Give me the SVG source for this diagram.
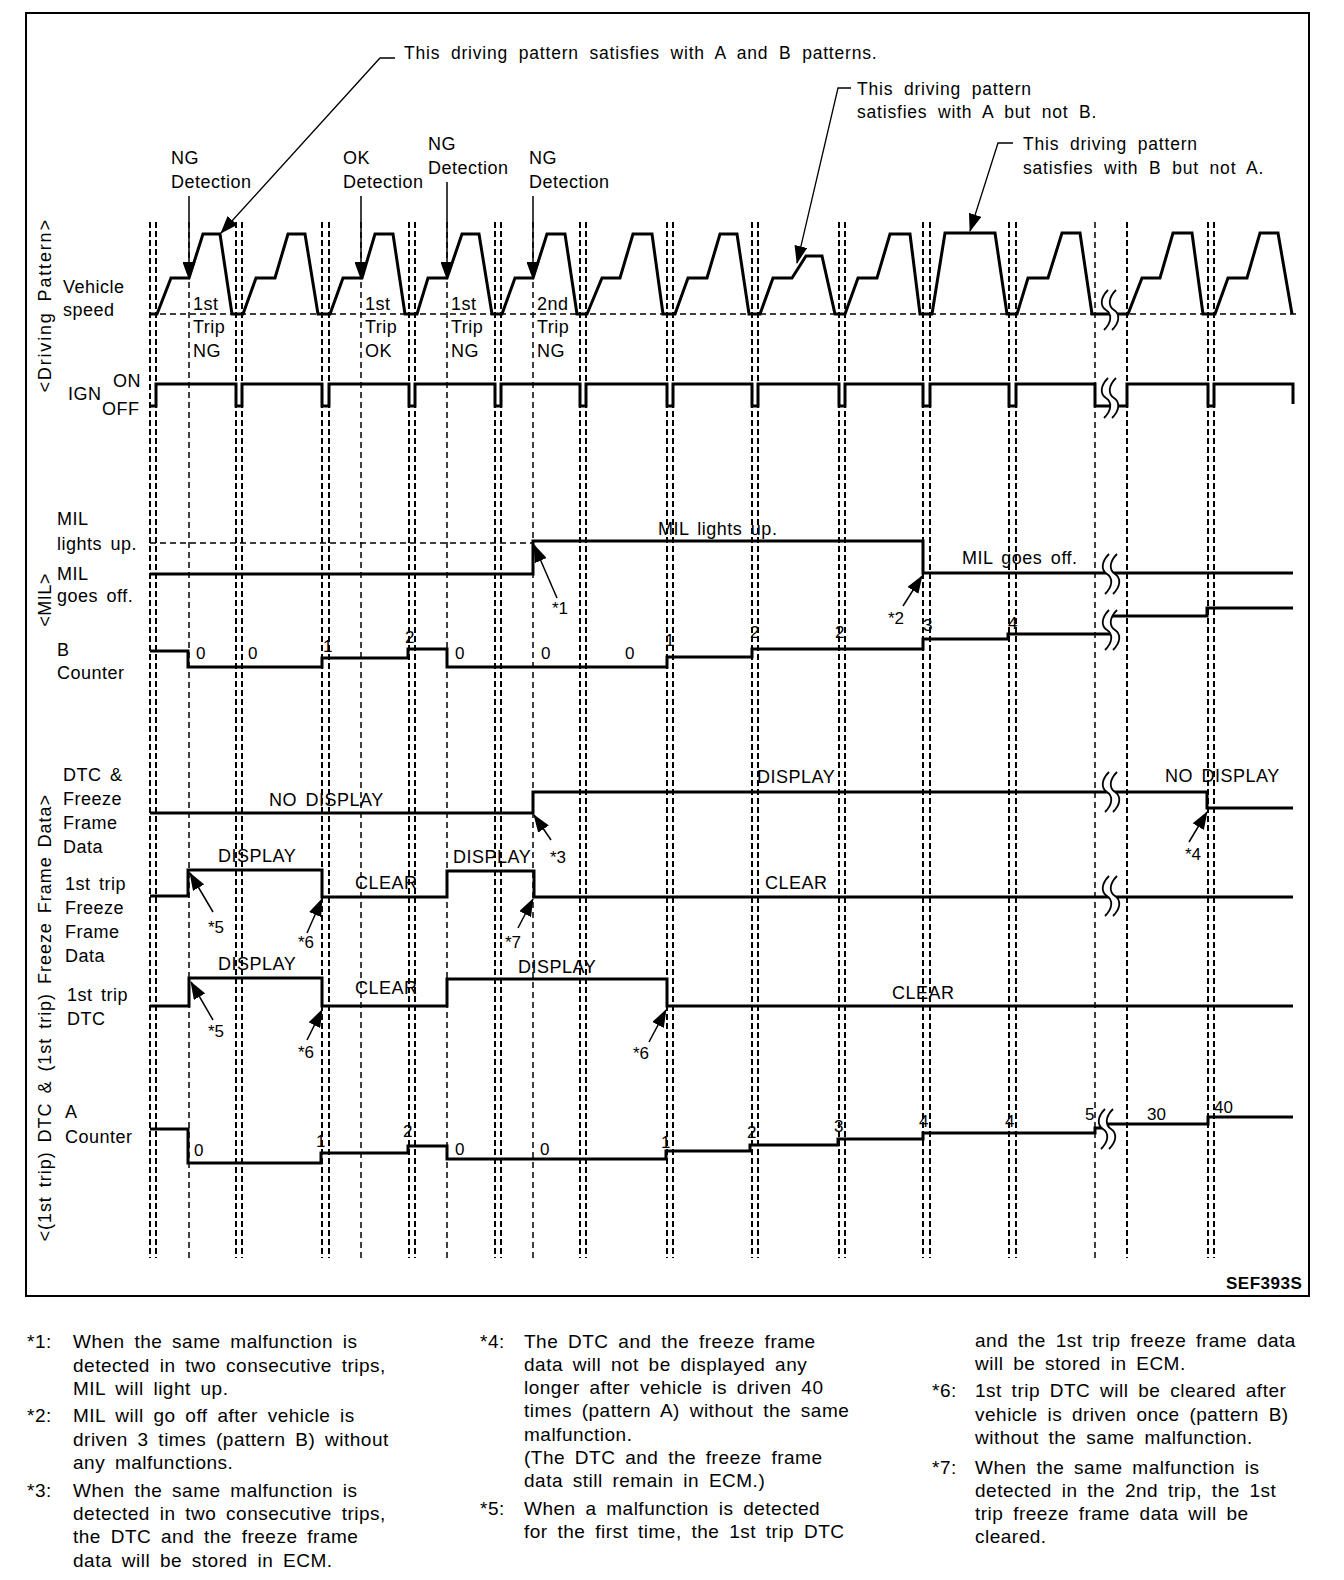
<svg xmlns="http://www.w3.org/2000/svg" width="1344" height="1580" viewBox="0 0 1344 1580">
<defs>
<style>
.t{font-family:"Liberation Sans",Arial,sans-serif;font-size:18px;letter-spacing:0.5px;word-spacing:3px;fill:#000}
.a{font-family:"Liberation Sans",Arial,sans-serif;font-size:17.5px;letter-spacing:0.8px;word-spacing:5px;fill:#000}
.n{font-family:"Liberation Sans",Arial,sans-serif;font-size:17px;fill:#000}
.f{font-family:"Liberation Sans",Arial,sans-serif;font-size:19px;letter-spacing:0.5px;word-spacing:4px;fill:#000}
.b{font-family:"Liberation Sans",Arial,sans-serif;font-size:17px;font-weight:bold;letter-spacing:0.5px;fill:#000}
.sig{fill:none;stroke:#000;stroke-width:3;stroke-linejoin:miter}
.pd{stroke:#000;stroke-width:2;stroke-dasharray:6 3}
.sd{stroke:#000;stroke-width:1.5;stroke-dasharray:6 4}
.ld{fill:none;stroke:#000;stroke-width:1.3}
.ar{fill:none;stroke:#000;stroke-width:1.5;marker-end:url(#ah)}
.bs{fill:none;stroke:#000;stroke-width:1.8}
</style>
<marker id="ah" markerUnits="userSpaceOnUse" markerWidth="18" markerHeight="13" refX="17" refY="6.5" orient="auto" viewBox="0 0 18 13"><path d="M0,0 L18,6.5 L0,13 Z" fill="#000"/></marker>
<g id="brk"><path d="M5,-20 C-3,-12 -3,-4 3,0 C9,4 9,12 1,20 L9,20 C17,12 17,4 11,0 C5,-4 5,-12 13,-20 Z" fill="#fff"/><path class="bs" d="M5,-20 C-3,-12 -3,-4 3,0 C9,4 9,12 1,20 M13,-20 C5,-12 5,-4 11,0 C17,4 17,12 9,20"/></g>
</defs>
<rect x="0" y="0" width="1344" height="1580" fill="#fff"/>
<rect x="26" y="13" width="1283" height="1283" fill="none" stroke="#000" stroke-width="2"/>

<g id="gridlines">
<line class="pd" x1="150" y1="222" x2="150" y2="1258"/><line class="pd" x1="156" y1="222" x2="156" y2="1258"/>
<line class="sd" x1="189" y1="222" x2="189" y2="1258"/>
<line class="pd" x1="236" y1="222" x2="236" y2="1258"/><line class="pd" x1="242" y1="222" x2="242" y2="1258"/>
<line class="pd" x1="322" y1="222" x2="322" y2="1258"/><line class="pd" x1="329" y1="222" x2="329" y2="1258"/>
<line class="sd" x1="361" y1="222" x2="361" y2="1258"/>
<line class="pd" x1="409" y1="222" x2="409" y2="1258"/><line class="pd" x1="415" y1="222" x2="415" y2="1258"/>
<line class="sd" x1="447" y1="222" x2="447" y2="1258"/>
<line class="pd" x1="495" y1="222" x2="495" y2="1258"/><line class="pd" x1="501" y1="222" x2="501" y2="1258"/>
<line class="sd" x1="533" y1="222" x2="533" y2="1258"/>
<line class="pd" x1="580" y1="222" x2="580" y2="1258"/><line class="pd" x1="586" y1="222" x2="586" y2="1258"/>
<line class="pd" x1="667" y1="222" x2="667" y2="1258"/><line class="pd" x1="673" y1="222" x2="673" y2="1258"/>
<line class="pd" x1="752" y1="222" x2="752" y2="1258"/><line class="pd" x1="758" y1="222" x2="758" y2="1258"/>
<line class="pd" x1="839" y1="222" x2="839" y2="1258"/><line class="pd" x1="845" y1="222" x2="845" y2="1258"/>
<line class="pd" x1="923" y1="222" x2="923" y2="1258"/><line class="pd" x1="930" y1="222" x2="930" y2="1258"/>
<line class="pd" x1="1009" y1="222" x2="1009" y2="1258"/><line class="pd" x1="1016" y1="222" x2="1016" y2="1258"/>
<line class="sd" x1="1095" y1="222" x2="1095" y2="1258"/><line class="pd" x1="1127" y1="222" x2="1127" y2="1258"/>
<line class="pd" x1="1208" y1="222" x2="1208" y2="1258"/><line class="pd" x1="1214" y1="222" x2="1214" y2="1258"/>
<line class="sd" x1="150" y1="314" x2="1297" y2="314" stroke-width="1.2"/>
<line class="sd" x1="150" y1="543" x2="533" y2="543" stroke-width="1.2"/>
</g>

<g id="vehicle-speed">
<path class="sig" d="M150,314 L157,314 L171,278 L189,278 L203,234 L220,234 L232,314 L243,314 L256,278 L275,278 L288,234 L305,234 L318,314 L330,314 L343,278 L362,278 L375,234 L393,234 L405,314 L417,314 L428,278 L447,278 L462,234 L479,234 L492,314 L502,314 L515,278 L533,278 L547,234 L565,234 L577,314 L587,314 L602,278 L620,278 L633,234 L652,234 L663,314 L675,314 L688,278 L707,278 L720,234 L737,234 L749,314 L760,314 L773,278 L792,278 L806,256 L822,256 L835,314 L845,314 L858,278 L877,278 L890,234 L910,234 L920,314 L932,314 L945,233 L995,233 L1007,314 L1017,314 L1028,278 L1048,278 L1062,233 L1080,233 L1092,314 L1128,314 L1142,278 L1160,278 L1173,233 L1192,233 L1203,314 L1215,314 L1228,278 L1247,278 L1260,233 L1278,233 L1292,314"/>
<use href="#brk" x="1103" y="310"/>
<text class="t" x="63" y="293">Vehicle</text>
<text class="t" x="63" y="316">speed</text>
<text class="t" x="193" y="310">1st</text><text class="t" x="193" y="333">Trip</text><text class="t" x="193" y="357">NG</text>
<text class="t" x="365" y="310">1st</text><text class="t" x="365" y="333">Trip</text><text class="t" x="365" y="357">OK</text>
<text class="t" x="451" y="310">1st</text><text class="t" x="451" y="333">Trip</text><text class="t" x="451" y="357">NG</text>
<text class="t" x="537" y="310">2nd</text><text class="t" x="537" y="333">Trip</text><text class="t" x="537" y="357">NG</text>
<text class="t" x="171" y="164">NG</text><text class="t" x="171" y="188">Detection</text>
<text class="t" x="343" y="164">OK</text><text class="t" x="343" y="188">Detection</text>
<text class="t" x="428" y="150">NG</text><text class="t" x="428" y="174">Detection</text>
<text class="t" x="529" y="164">NG</text><text class="t" x="529" y="188">Detection</text>
<text class="a" x="404" y="59">This driving pattern satisfies with A and B patterns.</text>
<text class="a" x="857" y="95">This driving pattern</text>
<text class="a" x="857" y="118">satisfies with A but not B.</text>
<text class="a" x="1023" y="150">This driving pattern</text>
<text class="a" x="1023" y="174">satisfies with B but not A.</text>
</g>

<g id="ign">
<path class="sig" d="M150,406 L156,406 L156,384 L236,384 L236,406 L242,406 L242,384 L322,384 L322,406 L329,406 L329,384 L409,384 L409,406 L415,406 L415,384 L495,384 L495,406 L501,406 L501,384 L580,384 L580,406 L586,406 L586,384 L667,384 L667,406 L673,406 L673,384 L752,384 L752,406 L758,406 L758,384 L839,384 L839,406 L845,406 L845,384 L923,384 L923,406 L930,406 L930,384 L1009,384 L1009,406 L1016,406 L1016,384 L1095,384 L1095,406 L1127,406 L1127,384 L1208,384 L1208,406 L1214,406 L1214,384 L1293,384 L1293,404"/>
<use href="#brk" x="1103" y="398"/>
<text class="t" x="68" y="400">IGN</text>
<text class="t" x="113" y="387">ON</text>
<text class="t" x="102" y="415">OFF</text>
<text class="t" transform="translate(51,306) rotate(-90)" text-anchor="middle" textLength="173" lengthAdjust="spacing">&lt;Driving Pattern&gt;</text>
</g>

<g id="mil">
<path class="sig" d="M150,574 L533,574 L533,541 L923,541 L923,573 L1293,573"/>
<use href="#brk" x="1104" y="574"/>
<text class="t" x="57" y="525">MIL</text>
<text class="t" x="57" y="550">lights up.</text>
<text class="t" x="57" y="580">MIL</text>
<text class="t" x="57" y="602">goes off.</text>
<text class="t" x="658" y="535">MIL lights up.</text>
<text class="t" x="962" y="564">MIL goes off.</text>
<text class="n" x="552" y="614">*1</text>
<text class="n" x="888" y="624">*2</text>
<text class="t" transform="translate(51,600) rotate(-90)" text-anchor="middle">&lt;MIL&gt;</text>
</g>

<g id="b-counter">
<path class="sig" d="M150,651 L188,651 L188,667 L322,667 L322,658 L408,658 L408,649 L447,649 L447,667 L667,667 L667,657 L752,657 L752,649 L923,649 L923,639 L1008,639 L1008,634 L1112,634 M1108,616 L1207,616 L1207,608 L1293,608"/>
<use href="#brk" x="1104" y="630"/>
<text class="t" x="57" y="656">B</text>
<text class="t" x="57" y="679">Counter</text>
<text class="n" x="196" y="659">0</text>
<text class="n" x="248" y="659">0</text>
<text class="n" x="323" y="652">1</text>
<text class="n" x="405" y="643">2</text>
<text class="n" x="455" y="659">0</text>
<text class="n" x="541" y="659">0</text>
<text class="n" x="625" y="659">0</text>
<text class="n" x="665" y="646">1</text>
<text class="n" x="750" y="638">2</text>
<text class="n" x="835" y="638">2</text>
<text class="n" x="923" y="631">3</text>
<text class="n" x="1008" y="629">4</text>
</g>

<g id="dtc-ffd">
<path class="sig" d="M150,813 L533,813 L533,792 L1207,792 L1207,808 L1293,808"/>
<use href="#brk" x="1104" y="792"/>
<text class="t" x="63" y="781">DTC &amp;</text>
<text class="t" x="63" y="805">Freeze</text>
<text class="t" x="63" y="829">Frame</text>
<text class="t" x="63" y="853">Data</text>
<text class="t" x="269" y="806">NO DISPLAY</text>
<text class="t" x="757" y="783">DISPLAY</text>
<text class="t" x="1165" y="782">NO DISPLAY</text>
<text class="n" x="550" y="863">*3</text>
<text class="n" x="1185" y="860">*4</text>
</g>

<g id="first-trip-ffd">
<path class="sig" d="M150,896 L188,896 L188,870 L322,870 L322,897 L447,897 L447,871 L534,871 L534,897 L1293,897"/>
<use href="#brk" x="1104" y="896"/>
<text class="t" x="65" y="890">1st trip</text>
<text class="t" x="65" y="914">Freeze</text>
<text class="t" x="65" y="938">Frame</text>
<text class="t" x="65" y="962">Data</text>
<text class="t" x="218" y="862">DISPLAY</text>
<text class="t" x="355" y="889">CLEAR</text>
<text class="t" x="453" y="863">DISPLAY</text>
<text class="t" x="765" y="889">CLEAR</text>
<text class="n" x="208" y="933">*5</text>
<text class="n" x="298" y="948">*6</text>
<text class="n" x="505" y="948">*7</text>
</g>

<g id="first-trip-dtc">
<path class="sig" d="M150,1006 L189,1006 L189,978 L322,978 L322,1006 L447,1006 L447,979 L667,979 L667,1006 L1293,1006"/>
<text class="t" x="67" y="1001">1st trip</text>
<text class="t" x="67" y="1025">DTC</text>
<text class="t" x="218" y="970">DISPLAY</text>
<text class="t" x="355" y="994">CLEAR</text>
<text class="t" x="518" y="973">DISPLAY</text>
<text class="t" x="892" y="999">CLEAR</text>
<text class="n" x="208" y="1037">*5</text>
<text class="n" x="298" y="1058">*6</text>
<text class="n" x="633" y="1059">*6</text>
<text class="t" transform="translate(51,1018) rotate(-90)" text-anchor="middle" textLength="447" lengthAdjust="spacing">&lt;(1st trip) DTC &amp; (1st trip) Freeze Frame Data&gt;</text>
</g>

<g id="a-counter">
<path class="sig" d="M150,1129 L188,1129 L188,1163 L321,1163 L321,1153 L408,1153 L408,1146 L447,1146 L447,1159 L666,1159 L666,1151 L750,1151 L750,1145 L838,1145 L838,1139 L923,1139 L923,1133 L1095,1133 L1095,1128 L1110,1128 M1106,1124 L1208,1124 L1208,1117 L1293,1117"/>
<use href="#brk" x="1100" y="1129"/>
<text class="t" x="65" y="1118">A</text>
<text class="t" x="65" y="1143">Counter</text>
<text class="n" x="194" y="1156">0</text>
<text class="n" x="316" y="1147">1</text>
<text class="n" x="403" y="1137">2</text>
<text class="n" x="455" y="1155">0</text>
<text class="n" x="540" y="1155">0</text>
<text class="n" x="661" y="1148">1</text>
<text class="n" x="747" y="1138">2</text>
<text class="n" x="834" y="1132">3</text>
<text class="n" x="919" y="1127">4</text>
<text class="n" x="1005" y="1127">4</text>
<text class="n" x="1085" y="1120">5</text>
<text class="n" x="1147" y="1120">30</text>
<text class="n" x="1214" y="1113">40</text>
<text class="b" x="1226" y="1289">SEF393S</text>
</g>

<g id="connectors">
<polyline class="ld" points="395,58 380,58 221,233" marker-end="url(#ah)"/>
<polyline class="ld" points="851,88 838,88 797,263" marker-end="url(#ah)"/>
<polyline class="ld" points="1013,143 998,143 970,231" marker-end="url(#ah)"/>
<line class="ar" x1="189" y1="196" x2="189" y2="279"/>
<line class="ar" x1="361" y1="196" x2="361" y2="279"/>
<line class="ar" x1="447" y1="182" x2="447" y2="279"/>
<line class="ar" x1="533" y1="196" x2="533" y2="279"/>
<line class="ar" x1="557" y1="598" x2="534" y2="545"/>
<line class="ar" x1="903" y1="606" x2="922" y2="576"/>
<line class="ar" x1="551" y1="840" x2="534" y2="815"/>
<line class="ar" x1="1189" y1="842" x2="1207" y2="812"/>
<line class="ar" x1="213" y1="912" x2="190" y2="873"/>
<line class="ar" x1="307" y1="933" x2="322" y2="899"/>
<line class="ar" x1="518" y1="928" x2="533" y2="899"/>
<line class="ar" x1="213" y1="1020" x2="191" y2="982"/>
<line class="ar" x1="307" y1="1040" x2="322" y2="1010"/>
<line class="ar" x1="649" y1="1042" x2="666" y2="1010"/>
</g>

<g id="footnotes">
<text class="f" x="27" y="1348">*1:</text>
<text class="f" x="73" y="1348">When the same malfunction is</text>
<text class="f" x="73" y="1372">detected in two consecutive trips,</text>
<text class="f" x="73" y="1395">MIL will light up.</text>
<text class="f" x="27" y="1422">*2:</text>
<text class="f" x="73" y="1422">MIL will go off after vehicle is</text>
<text class="f" x="73" y="1446">driven 3 times (pattern B) without</text>
<text class="f" x="73" y="1469">any malfunctions.</text>
<text class="f" x="27" y="1497">*3:</text>
<text class="f" x="73" y="1497">When the same malfunction is</text>
<text class="f" x="73" y="1520">detected in two consecutive trips,</text>
<text class="f" x="73" y="1543">the DTC and the freeze frame</text>
<text class="f" x="73" y="1567">data will be stored in ECM.</text>
<text class="f" x="480" y="1348">*4:</text>
<text class="f" x="524" y="1348">The DTC and the freeze frame</text>
<text class="f" x="524" y="1371">data will not be displayed any</text>
<text class="f" x="524" y="1394">longer after vehicle is driven 40</text>
<text class="f" x="524" y="1417">times (pattern A) without the same</text>
<text class="f" x="524" y="1441">malfunction.</text>
<text class="f" x="524" y="1464">(The DTC and the freeze frame</text>
<text class="f" x="524" y="1487">data still remain in ECM.)</text>
<text class="f" x="480" y="1515">*5:</text>
<text class="f" x="524" y="1515">When a malfunction is detected</text>
<text class="f" x="524" y="1538">for the first time, the 1st trip DTC</text>
<text class="f" x="975" y="1347">and the 1st trip freeze frame data</text>
<text class="f" x="975" y="1370">will be stored in ECM.</text>
<text class="f" x="932" y="1397">*6:</text>
<text class="f" x="975" y="1397">1st trip DTC will be cleared after</text>
<text class="f" x="975" y="1421">vehicle is driven once (pattern B)</text>
<text class="f" x="975" y="1444">without the same malfunction.</text>
<text class="f" x="932" y="1474">*7:</text>
<text class="f" x="975" y="1474">When the same malfunction is</text>
<text class="f" x="975" y="1497">detected in the 2nd trip, the 1st</text>
<text class="f" x="975" y="1520">trip freeze frame data will be</text>
<text class="f" x="975" y="1543">cleared.</text>
</g>
</svg>
